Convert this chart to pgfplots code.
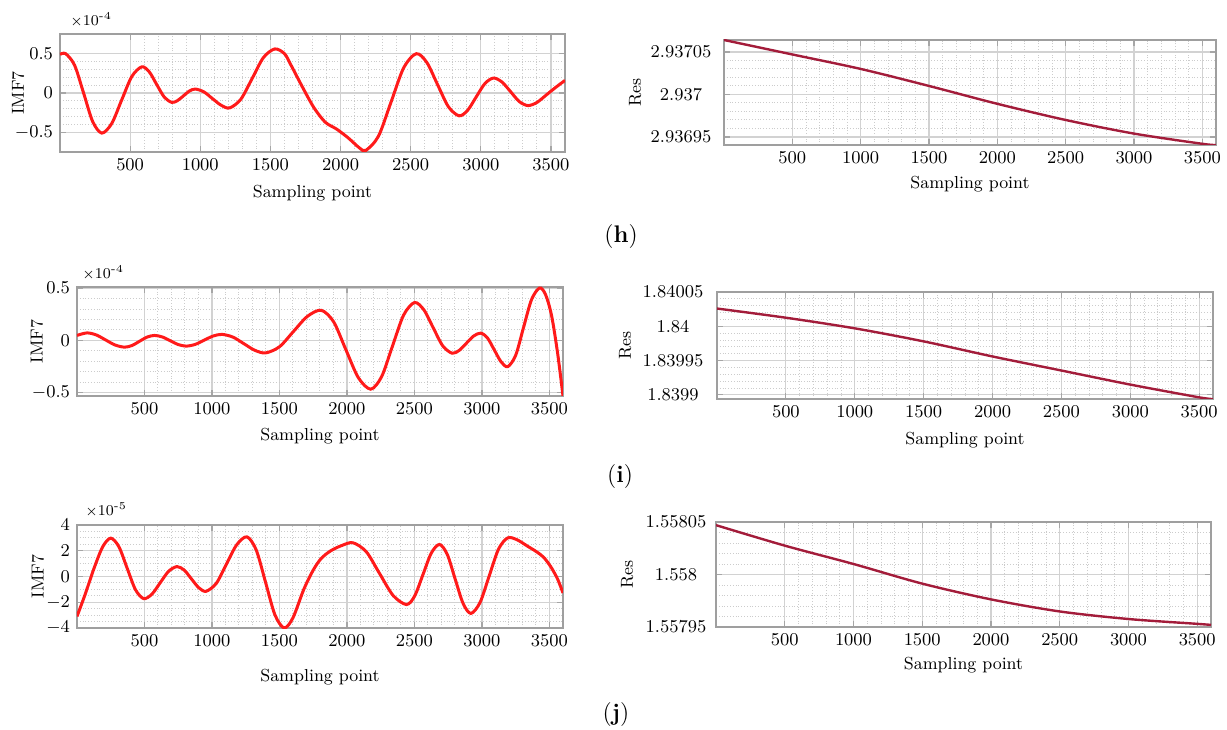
\documentclass[border=0pt]{standalone}
\usepackage{pgfplots}
\pgfplotsset{compat=1.18}

\definecolor{imfred}{HTML}{FF1A1A}
\definecolor{resred}{HTML}{A31C3A}

% MATLAB-like panel: light grid, dotted minor grid, grey frame
\pgfplotsset{
  emdpanel/.style={
    scale only axis,
    anchor=south west,
    clip mode=individual,
    xmin=0, xmax=3600,
    xtick={500,1000,...,3500},
    minor x tick num=4,
    xticklabel style={/pgf/number format/1000 sep={}},
    tick label style={font=\fontsize{9}{10}\selectfont},
    grid=both,
    major grid style={gray!35, line width=0.6pt},
    minor grid style={gray!40, densely dotted, line width=0.5pt},
    axis line style={gray!75, line width=0.9pt},
    tick style={gray!70, line width=0.6pt},
    major tick length=3pt, minor tick length=0pt,
    tick align=inside,
    xlabel={Sampling point},
    font=\fontsize{8.7}{10}\selectfont,
  },
  imfline/.style={imfred, line width=1.5pt, smooth, no markers},
  resline/.style={resred, line width=1.2pt, smooth, no markers},
}
\tikzset{scalelabel/.style={anchor=west, inner sep=0, font=\fontsize{7.5}{8}\selectfont}}

\begin{document}
\begin{tikzpicture}
\path[use as bounding box] (0,0) rectangle (613.5pt,364.5pt);

% ---------- (h) IMF7 ----------
\begin{axis}[emdpanel, at={(30pt,288.5pt)}, width=252.5pt, height=59pt,
  ymin=-0.75, ymax=0.75, ytick={-0.5,0,0.5}, minor y tick num=4,
  ylabel={IMF7},
  xlabel style={at={([yshift=-20.5pt]axis description cs:0.5,0)}, anchor=center},
  ylabel style={at={([xshift=-21pt]axis description cs:0,0.5)}, anchor=center}]
\addplot[imfline] coordinates {
  (0,0.49) (40,0.50) (104,0.353) (169,-0.005) (233,-0.363) (298,-0.51)
  (369,-0.387) (440,-0.088) (512,0.21) (583,0.333)
  (637,0.267) (690,0.106) (744,-0.054) (798,-0.12)
  (839,-0.095) (881,-0.035) (922,0.025) (964,0.05)
  (1025,0.015) (1086,-0.07) (1148,-0.155) (1209,-0.19)
  (1289,-0.08) (1370,0.185) (1450,0.45) (1531,0.56)
  (1600,0.50) (1645,0.36) (1727,0.08) (1808,-0.18) (1890,-0.37)
  (1973,-0.46) (2054,-0.57) (2136,-0.70) (2180,-0.73)
  (2270,-0.55) (2360,-0.115) (2450,0.32) (2540,0.50)
  (2616,0.385) (2692,0.105) (2769,-0.175) (2845,-0.29)
  (2906,-0.22) (2967,-0.05) (3029,0.12) (3090,0.19)
  (3151,0.139) (3213,0.015) (3274,-0.109) (3336,-0.16)
  (3400,-0.12) (3470,-0.02) (3540,0.08) (3600,0.16)};
\node[scalelabel] at ([xshift=5pt,yshift=7pt]rel axis cs:0,1) {$\times$10\textsuperscript{-4}};
\end{axis}

% ---------- (h) Res ----------
% Res values stored as (Res - 2.937) x 1e5, since the FPU keeps too few digits
\begin{axis}[emdpanel, at={(362pt,292pt)}, width=246pt, height=52.5pt,
  ymin=-5.94, ymax=6.4, ytick={-5,0,5}, minor y tick num=4,
  yticklabels={2.93695,2.937,2.93705},
  yticklabel style={anchor=center, xshift=-21.5pt},
  ylabel={Res},
  xlabel style={at={([yshift=-19.5pt]axis description cs:0.5,0)}, anchor=center},
  ylabel style={at={([xshift=-44.5pt]axis description cs:0,0.5)}, anchor=center}]
\addplot[resline] coordinates {
  (0,6.4) (500,4.7) (1000,3.0) (1500,1.0) (2000,-1.1)
  (2500,-3.0) (3000,-4.6) (3500,-5.8) (3600,-5.94)};
\end{axis}

% ---------- (i) IMF7 ----------
\begin{axis}[emdpanel, at={(38.5pt,166.5pt)}, width=243pt, height=54.5pt,
  ymin=-0.53, ymax=0.51, ytick={-0.5,0,0.5}, minor y tick num=4,
  ylabel={IMF7},
  xlabel style={at={([yshift=-20pt]axis description cs:0.5,0)}, anchor=center},
  ylabel style={at={([xshift=-20pt]axis description cs:0,0.5)}, anchor=center}]
\addplot[imfline] coordinates {
  (0,0.048) (74,0.072) (144,0.052) (213,0.004) (283,-0.044) (353,-0.064)
  (408,-0.048) (463,-0.008) (519,0.032) (574,0.048)
  (633,0.033) (691,-0.003) (750,-0.039) (809,-0.054)
  (875,-0.038) (941,0.002) (1008,0.042) (1074,0.058)
  (1155,0.032) (1235,-0.03) (1316,-0.093) (1397,-0.119)
  (1500,-0.06) (1603,0.085) (1706,0.229) (1809,0.288)
  (1901,0.178) (1992,-0.089) (2084,-0.355) (2176,-0.465)
  (2257,-0.344) (2338,-0.05) (2419,0.241) (2500,0.362)
  (2570,0.291) (2639,0.12) (2709,-0.051) (2779,-0.122)
  (2832,-0.094) (2885,-0.026) (2938,0.042) (2991,0.07)
  (3041,0.023) (3091,-0.09) (3141,-0.203) (3191,-0.25)
  (3250,-0.14) (3308,0.125) (3367,0.39) (3426,0.50)
  (3470,0.44) (3515,0.24) (3560,-0.12) (3600,-0.53)};
\node[scalelabel] at ([xshift=2.5pt,yshift=7pt]rel axis cs:0,1) {$\times$10\textsuperscript{-4}};
\end{axis}

% ---------- (i) Res ----------
% stored as (Res - 1.84) x 1e5
\begin{axis}[emdpanel, at={(358.5pt,165pt)}, width=248pt, height=53.5pt,
  ymin=-10.6, ymax=5, ytick={-10,-5,0,5}, minor y tick num=4,
  yticklabels={1.8399,1.83995,1.84,1.84005},
  yticklabel style={anchor=center, xshift=-22pt},
  ylabel={Res},
  xlabel style={at={([yshift=-20.5pt]axis description cs:0.5,0)}, anchor=center},
  ylabel style={at={([xshift=-46pt]axis description cs:0,0.5)}, anchor=center}]
\addplot[resline] coordinates {
  (0,2.59) (500,1.25) (1000,-0.3) (1500,-2.2) (2000,-4.4)
  (2500,-6.45) (3000,-8.5) (3500,-10.36) (3600,-10.6)};
\end{axis}

% ---------- (j) IMF7 ----------
\begin{axis}[emdpanel, at={(38.5pt,50.5pt)}, width=243pt, height=51.5pt,
  ymin=-4, ymax=4, ytick={-4,-2,0,2,4}, minor y tick num=3,
  ylabel={IMF7},
  xlabel style={at={([yshift=-24.5pt]axis description cs:0.5,0)}, anchor=center},
  ylabel style={at={([xshift=-19.5pt]axis description cs:0,0.5)}, anchor=center}]
\addplot[imfline] coordinates {
  (0,-3.1) (60,-1.4) (125,0.6) (190,2.3) (250,2.98)
  (311,2.3) (372,0.63) (433,-1.02) (494,-1.72)
  (556,-1.36) (617,-0.475) (679,0.41) (741,0.77)
  (795,0.49) (848,-0.19) (902,-0.87) (956,-1.15)
  (1032,-0.53) (1107,0.965) (1183,2.46) (1259,3.08)
  (1328,2.05) (1397,-0.46) (1466,-2.97) (1535,-4.0)
  (1600,-3.2) (1680,-1.0) (1750,0.5) (1809,1.4) (1880,2.0) (1960,2.4) (2044,2.62)
  (2143,1.92) (2242,0.22) (2342,-1.48) (2441,-2.18)
  (2502,-1.5) (2563,0.155) (2624,1.81) (2685,2.49)
  (2743,1.71) (2801,-0.19) (2860,-2.09) (2918,-2.87)
  (2986,-2.01) (3054,0.065) (3123,2.14) (3191,3.0)
  (3260,2.85) (3338,2.35) (3400,1.95) (3456,1.5) (3510,0.75) (3560,-0.2) (3600,-1.28)};
\node[scalelabel] at ([xshift=4pt,yshift=7.5pt]rel axis cs:0,1) {$\times$10\textsuperscript{-5}};
\end{axis}

% ---------- (j) Res ----------
% stored as (Res - 1.558) x 1e5
\begin{axis}[emdpanel, at={(358pt,51pt)}, width=247.5pt, height=52.5pt,
  ymin=-5, ymax=5, ytick={-5,0,5}, minor y tick num=4,
  yticklabels={1.55795,1.558,1.55805},
  yticklabel style={anchor=center, xshift=-20pt},
  ylabel={Res},
  xlabel style={at={([yshift=-19pt]axis description cs:0.5,0)}, anchor=center},
  ylabel style={at={([xshift=-44.5pt]axis description cs:0,0.5)}, anchor=center}]
\addplot[resline] coordinates {
  (0,4.7) (500,2.75) (1000,1.0) (1500,-0.87) (2000,-2.37)
  (2500,-3.52) (3000,-4.24) (3500,-4.7) (3600,-4.8)};
\end{axis}

% sub-figure letters
\node[font=\fontsize{12}{14}\selectfont] at (310.5pt,246pt) {(\textbf{h})};
\node[font=\fontsize{12}{14}\selectfont] at (310pt,126pt) {(\textbf{i})};
\node[font=\fontsize{12}{14}\selectfont] at (308pt,7pt) {(\textbf{j})};
\end{tikzpicture}
\end{document}
